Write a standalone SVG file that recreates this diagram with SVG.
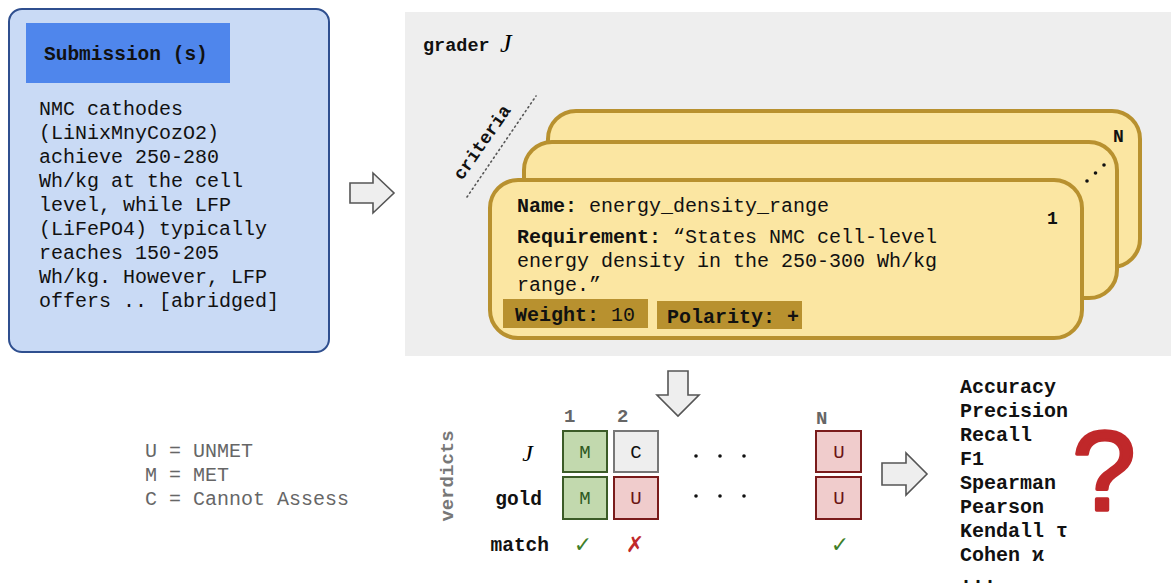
<svg xmlns="http://www.w3.org/2000/svg" width="1171" height="588" viewBox="0 0 1171 588">
<style>
.mono{font-family:"Liberation Mono","DejaVu Sans Mono",monospace;font-size:20px;fill:#111}
.b{font-weight:bold}
.card{fill:#fbe6a2;stroke:#b8912f;stroke-width:4}
.badge{fill:#b8912f}
.arrow{fill:#eeeeee;stroke:#555;stroke-width:1.6}
.ser{font-family:"Liberation Serif","DejaVu Serif",serif;font-style:italic}
.g{fill:#c2d9ae;stroke:#3b5b27;stroke-width:2}
.r{fill:#f0cccc;stroke:#7a1b1b;stroke-width:2}
.c{fill:#eeeeee;stroke:#777;stroke-width:2}
.hdr{font-family:"Liberation Mono","DejaVu Sans Mono",monospace;font-size:19px;font-weight:bold;fill:#666}
.cell{font-family:"Liberation Mono","DejaVu Sans Mono",monospace;font-size:19px;text-anchor:middle}
</style>
<rect width="1171" height="588" fill="#ffffff"/>

<g id="submission">
<rect x="9" y="9" width="320" height="343" rx="13" fill="#c9daf5" stroke="#2f4f8f" stroke-width="2"/>
<rect x="26" y="23" width="204" height="60" fill="#4f86ec"/>
<text x="44" y="60" class="mono b" style="font-size:19.5px">Submission (s)</text>
<text class="mono">
<tspan x="39" y="115">NMC cathodes</tspan>
<tspan x="39" y="139">(LiNixMnyCozO2)</tspan>
<tspan x="39" y="163">achieve 250-280</tspan>
<tspan x="39" y="187">Wh/kg at the cell</tspan>
<tspan x="39" y="211">level, while LFP</tspan>
<tspan x="39" y="235">(LiFePO4) typically</tspan>
<tspan x="39" y="259">reaches 150-205</tspan>
<tspan x="39" y="283">Wh/kg. However, LFP</tspan>
<tspan x="39" y="307">offers .. [abridged]</tspan>
</text>
</g>

<g id="grader">
<rect x="405" y="12" width="766" height="344" fill="#eeeeee"/>
<text x="423" y="51" class="mono b" style="font-size:18.5px">grader</text>
<text x="500" y="52" class="ser" style="font-size:26px">J</text>
</g>

<g id="criteria-label">
<text transform="translate(462,181) rotate(-55)" class="mono b" style="font-size:18px">criteria</text>
<line x1="467" y1="197" x2="536" y2="96" stroke="#555" stroke-width="1.6" stroke-dasharray="1.2 3.5" stroke-linecap="round"/>
</g>

<g id="card-N">
<rect x="548" y="111" width="592" height="156" rx="28" class="card"/>
<text x="1113" y="142" class="mono b" style="font-size:18px">N</text>
</g>

<g id="card-mid">
<rect x="524" y="142" width="593" height="156" rx="28" class="card"/>
<circle cx="1087" cy="181" r="1.8" fill="#111"/>
<circle cx="1095.5" cy="173" r="1.8" fill="#111"/>
<circle cx="1104" cy="165" r="1.8" fill="#111"/>
</g>

<g id="card-1">
<rect x="490" y="180" width="592" height="158" rx="28" class="card"/>
<text x="1047" y="224" class="mono b" style="font-size:18px">1</text>
<text x="517" y="212" class="mono"><tspan class="b">Name:</tspan> energy_density_range</text>
<text class="mono">
<tspan x="517" y="243"><tspan class="b">Requirement:</tspan> “States NMC cell-level</tspan>
<tspan x="517" y="267">energy density in the 250-300 Wh/kg</tspan>
<tspan x="517" y="291">range.”</tspan>
</text>
<rect x="503" y="299" width="145" height="29" class="badge"/>
<text x="515" y="321" class="mono"><tspan class="b">Weight:</tspan> 10</text>
<rect x="657" y="301" width="145" height="28" class="badge"/>
<text x="667" y="323" class="mono b">Polarity: +</text>
</g>

<g id="connectors">
<path class="arrow" d="M350,183 H373 V173 L394,193 L373,213 V203 H350 Z"/>
<path class="arrow" d="M668,371 H688 V395 H699 L678,416 L657,395 H668 Z"/>
<path class="arrow" d="M882,463 H906 V453 L927,474 L906,495 V485 H882 Z"/>
</g>

<g id="legend">
<text class="mono" style="fill:#666">
<tspan x="145" y="457">U = UNMET</tspan>
<tspan x="145" y="481">M = MET</tspan>
<tspan x="145" y="505">C = Cannot Assess</tspan>
</text>
</g>

<g id="verdicts">
<text transform="translate(453,476) rotate(-90)" text-anchor="middle" class="mono b" style="fill:#777;font-size:19px">verdicts</text>
<text x="564" y="422" class="hdr">1</text>
<text x="617" y="422" class="hdr">2</text>
<text x="816" y="424" class="hdr">N</text>
<text x="533" y="461" text-anchor="end" class="ser" style="font-size:24px">J</text>
<text x="542" y="505" text-anchor="end" class="mono b" style="font-size:19.5px">gold</text>
<text x="549" y="551" text-anchor="end" class="mono b" style="font-size:19.5px">match</text>

<rect x="563" y="431" width="44" height="41" class="g"/>
<text x="585" y="458" class="cell" fill="#2f5a1f">M</text>
<rect x="614" y="431" width="44" height="41" class="c"/>
<text x="636" y="458" class="cell" fill="#111">C</text>
<rect x="563" y="477" width="44" height="42" class="g"/>
<text x="585" y="504" class="cell" fill="#2f5a1f">M</text>
<rect x="614" y="477" width="44" height="42" class="r"/>
<text x="636" y="504" class="cell" fill="#6a1414">U</text>
<rect x="816" y="431" width="45" height="41" class="r"/>
<text x="839" y="458" class="cell" fill="#6a1414">U</text>
<rect x="816" y="477" width="45" height="42" class="r"/>
<text x="839" y="504" class="cell" fill="#6a1414">U</text>

<g fill="#111">
<circle cx="696" cy="456" r="1.8"/><circle cx="720" cy="456" r="1.8"/><circle cx="744" cy="456" r="1.8"/>
<circle cx="696" cy="496" r="1.8"/><circle cx="720" cy="496" r="1.8"/><circle cx="744" cy="496" r="1.8"/>
</g>

<text x="583" y="552" text-anchor="middle" style="font-family:'DejaVu Sans',sans-serif;font-size:22px;fill:#3f7f2a">✓</text>
<text x="635" y="552" text-anchor="middle" style="font-family:'DejaVu Sans',sans-serif;font-size:22px;fill:#c0282a">✗</text>
<text x="840" y="552" text-anchor="middle" style="font-family:'DejaVu Sans',sans-serif;font-size:22px;fill:#3f7f2a">✓</text>
</g>

<g id="metrics">
<text class="mono b">
<tspan x="960" y="393">Accuracy</tspan>
<tspan x="960" y="417">Precision</tspan>
<tspan x="960" y="441">Recall</tspan>
<tspan x="960" y="465">F1</tspan>
<tspan x="960" y="489">Spearman</tspan>
<tspan x="960" y="513">Pearson</tspan>
<tspan x="960" y="537">Kendall τ</tspan>
<tspan x="960" y="561">Cohen ϰ</tspan>
<tspan x="960" y="583">...</tspan>
</text>
<text x="1104" y="510" text-anchor="middle" style="font-family:'Liberation Sans',sans-serif;font-size:114px;fill:#c0282a;stroke:#c0282a;stroke-width:3.5;stroke-linejoin:round">?</text>
</g>
</svg>
